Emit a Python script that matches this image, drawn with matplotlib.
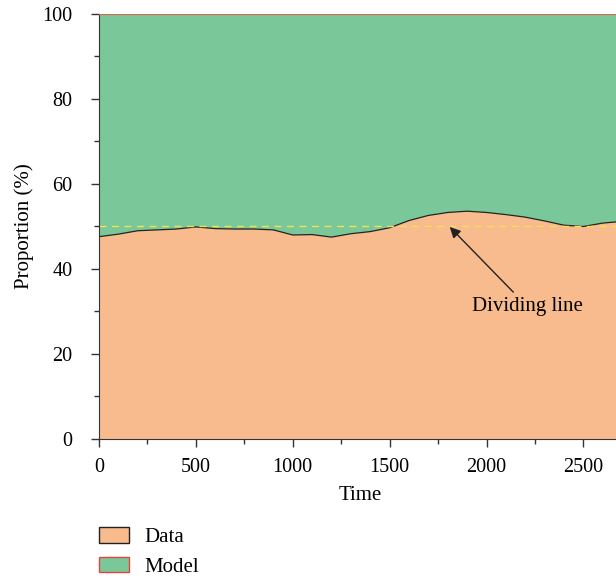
import matplotlib
matplotlib.use("Agg")
import matplotlib.pyplot as plt
from matplotlib.patches import Patch
from matplotlib.ticker import MultipleLocator

plt.rcParams["font.family"] = ["Liberation Serif", "DejaVu Serif"]

time = [0, 100, 200, 300, 400, 500, 600, 700, 800, 900, 1000, 1100, 1200,
        1300, 1400, 1500, 1600, 1700, 1800, 1900, 2000, 2100, 2200, 2300,
        2400, 2500, 2600, 2700]
data_share = [47.6, 48.2, 49.0, 49.2, 49.4, 49.9, 49.5, 49.4, 49.4, 49.2,
              48.0, 48.1, 47.5, 48.3, 48.8, 49.7, 51.4, 52.6, 53.3, 53.6,
              53.3, 52.8, 52.2, 51.3, 50.3, 50.0, 50.8, 51.2]
model_share = [100 - v for v in data_share]
split_level = 50

ORANGE = "#f8bb8e"
GREEN = "#7ac899"

fig = plt.figure(figsize=(6.16, 5.78), dpi=100)
ax = fig.add_axes([0.1607, 0.2405, 0.8393 + 0.01, 0.7353])

ax.stackplot(time, data_share, model_share, colors=[ORANGE, GREEN],
             linewidth=0)
ax.plot(time, data_share, color="#222222", lw=0.9)
ax.axhline(100, color="#e0654f", lw=1.6, zorder=3)
ax.axhline(split_level, color="#f5e050", lw=1.0, ls=(0, (5, 4)))

ax.annotate("Dividing line", xy=(1810, 49.9), xytext=(2210, 31.2),
            ha="center", va="center", fontsize=15,
            arrowprops=dict(arrowstyle="-|>", color="#222222", lw=1.0,
                            mutation_scale=16, shrinkA=2, shrinkB=0))

ax.set_xlim(0, 2700)
ax.set_ylim(0, 100)
ax.xaxis.set_major_locator(MultipleLocator(500))
ax.xaxis.set_minor_locator(MultipleLocator(250))
ax.yaxis.set_major_locator(MultipleLocator(20))
ax.yaxis.set_minor_locator(MultipleLocator(10))
ax.tick_params(which="major", length=6, width=1, labelsize=14.5,
               color="#333333")
ax.tick_params(which="minor", length=3.5, width=1, color="#333333")
ax.tick_params(axis="x", which="major", pad=8)
ax.tick_params(axis="y", which="major", pad=13)
for s in ["top", "right"]:
    ax.spines[s].set_visible(False)
for s in ["left", "bottom"]:
    ax.spines[s].set_color("#333333")
ax.set_xlabel("Time", fontsize=15, labelpad=6)
ax.set_ylabel("Proportion (%)", fontsize=15, labelpad=6)

handles = [Patch(facecolor=ORANGE, edgecolor="#222222", label="Data"),
           Patch(facecolor=GREEN, edgecolor="#e8433a", label="Model")]
fig.legend(handles=handles, loc="upper left", bbox_to_anchor=(0.1607, 0.088),
           frameon=False, fontsize=15, handlelength=1.45, handleheight=0.77,
           labelspacing=0.45, borderpad=0, handletextpad=0.75,
           borderaxespad=0)

fig.savefig("out.png", dpi=100)
